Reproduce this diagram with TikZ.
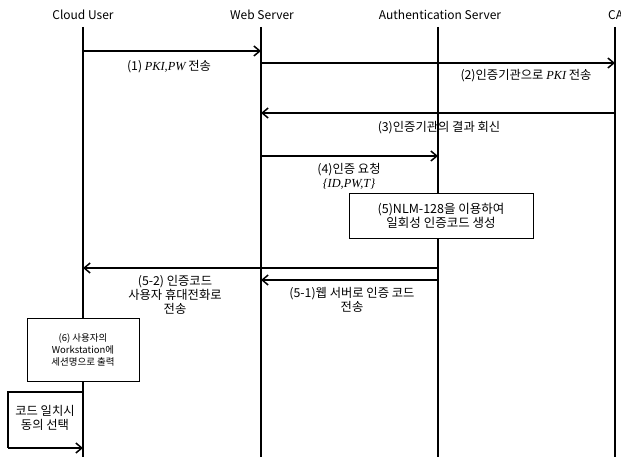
\documentclass[tikz,border=0pt]{standalone}
\usepackage{fontspec}
\setmainfont{Noto Sans CJK KR}
\newfontfamily\mathserif{Liberation Serif}
\newcommand\mv[1]{{\mathserif\itshape #1}}
\usetikzlibrary{arrows.meta}
\begin{document}
\begin{tikzpicture}[x=1pt,y=-1pt,
  lifeline/.style={line width=2pt},
  msg/.style={line width=1.5pt,-{Straight Barb[length=6pt,width=10pt,line width=1.5pt]}},
  head/.style={font=\fontsize{12}{14}\selectfont,inner sep=0pt},
  lbl/.style={font=\fontsize{12.3}{14}\selectfont,align=center,inner sep=0pt},
  actbox/.style={draw,line width=1pt,fill=white,align=center}]
\useasboundingbox (0,0) rectangle (621,457);
% headers
\node[head] (hcu) at (83,15) {Cloud User};
\node[head] (hws) at (262,15) {Web Server};
\node[head] (has) at (440,15) {Authentication Server};
\node[head,anchor=west] (hca) at (608,15) {CA};
% lifeline ends
\coordinate (cuT) at (83,27);  \coordinate (cuB) at (83,457);
\coordinate (wsT) at (261,27); \coordinate (wsB) at (261,457);
\coordinate (asT) at (438,27); \coordinate (asB) at (438,457);
\coordinate (caT) at (615,27); \coordinate (caB) at (615,457);
\draw[lifeline] (cuT) -- (cuB);
\draw[lifeline] (wsT) -- (wsB);
\draw[lifeline] (asT) -- (asB);
\draw[lifeline] (caT) -- (caB);
% message endpoints
\coordinate (m1a) at (83,51);  \coordinate (m1b) at (261,51);
\coordinate (m2a) at (261,63); \coordinate (m2b) at (615,63);
\coordinate (m3a) at (615,113);\coordinate (m3b) at (261,113);
\coordinate (m4a) at (261,156);\coordinate (m4b) at (438,156);
\coordinate (m52a) at (438,268);\coordinate (m52b) at (83,268);
\coordinate (m51a) at (438,280);\coordinate (m51b) at (261,280);
\draw[msg] (m1a) -- (m1b);
\draw[msg] (m2a) -- (m2b);
\draw[msg] (m3a) -- (m3b);
\draw[msg] (m4a) -- (m4b);
\draw[msg] (m52a) -- (m52b);
\draw[msg] (m51a) -- (m51b);
% labels
\node[lbl] (l1) at (169,67) {(1) \mv{PKI,PW} 전송};
\node[lbl] (l2) at (526,76) {(2)인증기관으로 \mv{PKI} 전송};
\node[lbl] (l3) at (439,128) {(3)인증기관의 결과 회신};
\node[lbl] (l4) at (349,176) {(4)인증 요청\\\mv{\{ID,PW,T\}}};
\node[lbl] (l52) at (175,295) {(5-2) 인증코드\\사용자 휴대전화로\\전송};
\node[lbl] (l51) at (352,300) {(5-1)웹 서버로 인증 코드\\전송};
% boxes
\node[actbox,minimum width=184pt,minimum height=44pt,font=\fontsize{12.5}{14}\selectfont] (b5) at (441,216) {(5)NLM-128을 이용하여\\일회성 인증코드 생성};
\node[actbox,minimum width=112pt,minimum height=63pt,font=\fontsize{9.5}{12}\selectfont] (b6) at (83,350) {(6) 사용자의\\Workstation에\\세션명으로 출력};
% self loop
\coordinate (s1) at (83,392);
\coordinate (s2) at (8,392);
\coordinate (s3) at (8,448);
\coordinate (s4) at (83,448);
\draw[line width=1.5pt] (s1) -- (s2) -- (s3);
\draw[msg] (s3) -- (s4);
\node[lbl] (l7) at (45,418) {코드 일치시\\동의 선택};
\end{tikzpicture}
\end{document}
